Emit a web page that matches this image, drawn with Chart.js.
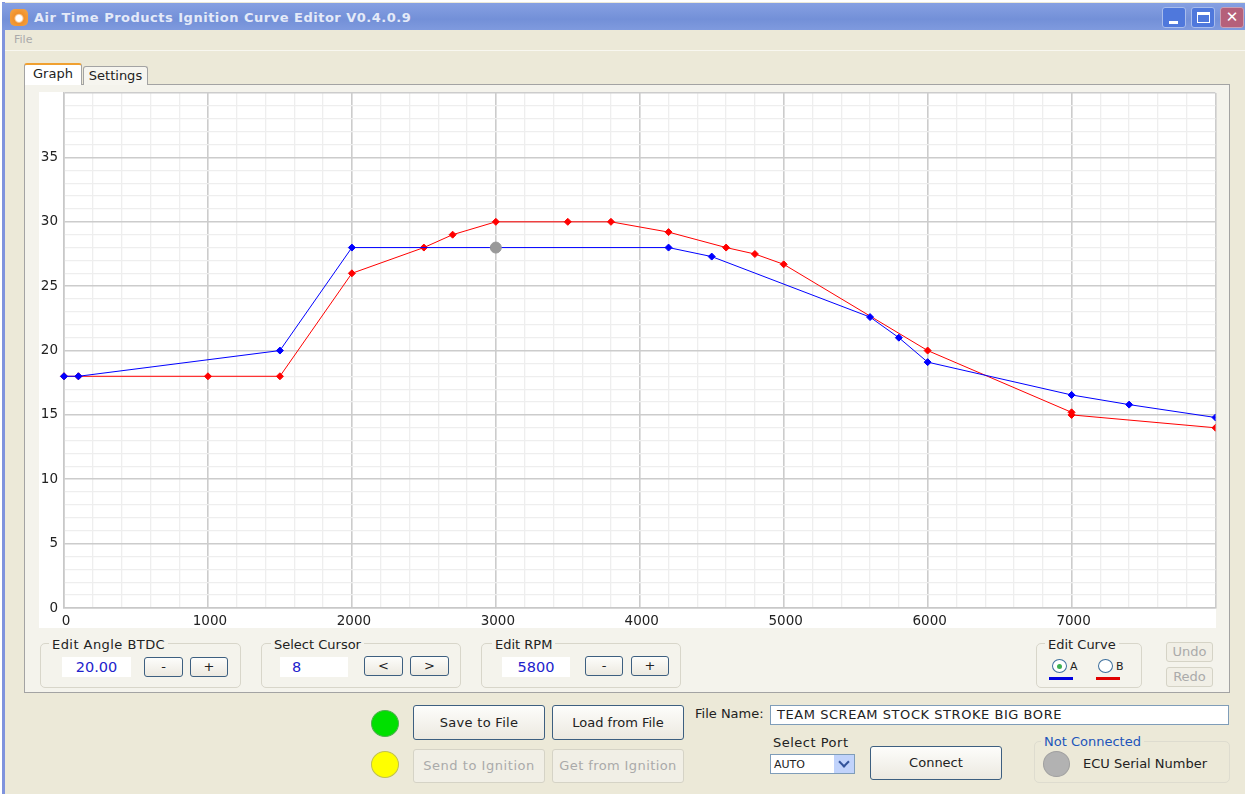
<!DOCTYPE html>
<html>
<head>
<meta charset="utf-8">
<title>Air Time Products Ignition Curve Editor</title>
<script src="https://cdn.jsdelivr.net/npm/chart.js@4"></script>
<style>
    html, body { margin: 0; padding: 0; background: #fff; width: 1245px; height: 800px; overflow: hidden; }
    body { font-family: "DejaVu Sans", sans-serif; font-size: 13px; color: #222; }
    .abs, .abs * { box-sizing: border-box; }
    .abs { position: absolute; white-space: nowrap; }
    .ventana { left: 2px; top: 2px; width: 1243px; height: 792px; background: #ece9d8; border-left: 3px solid #7f93dd; }
    .titulo { left: 2px; top: 3px; width: 1243px; height: 27px; background: linear-gradient(#86a0e2, #7390d8 60%, #7f9ade); }
    .textoTitulo { left: 34px; top: 10px; font-weight: bold; font-size: 13px; letter-spacing: 0.5px; color: #e4eaf8; }
    .icono { left: 10px; top: 9px; width: 18px; height: 17px; border-radius: 5px; background: radial-gradient(circle at 50% 55%, #fff 0 3px, #f0902a 5px, #f5a84a); }
    .btnVentana { top: 7px; width: 24px; height: 21px; border: 1px solid #a9bdec; border-radius: 3px; background: #4f78dc; color: #fff; text-align: center; line-height: 19px; font-weight: bold; }
    .menu { left: 5px; top: 30px; width: 1240px; height: 21px; border-bottom: 1px solid #f8f7f0; }
    .panel { left: 24px; top: 84px; width: 1206px; height: 609px; background: #f4f3ec; border: 1px solid #a3a3a3; }
    .tab { border: 1px solid #a3a3a3; border-bottom: none; border-radius: 3px 3px 0 0; text-align: center; }
    .grupo { border: 1px solid #d8d6ca; border-radius: 5px; }
    .leyenda { background: #f4f3ec; padding: 0 3px; line-height: 14px; }
    .campo { background: #fff; color: #2222cc; height: 20px; line-height: 20px; font-size: 14.5px; }
    .boton { border: 1px solid #3d5f80; border-radius: 3px; background: linear-gradient(#fdfdfb, #ece9e0); text-align: center; }
    .inactivo { border: 1px solid #d5d3c6; color: #aaa; background: #f1efe6; }
    .circulo { border-radius: 50%; }
    .fondoGrafico { left: 39px; top: 92px; width: 1177px; height: 536px; background: #fff; }
    canvas { position: absolute; left: 39px; top: 79px; }
</style>
</head>
<body>
<div class="abs ventana"></div>
<div class="abs titulo"></div>
<div class="abs icono"></div>
<div class="abs textoTitulo">Air Time Products Ignition Curve Editor V0.4.0.9</div>
<div class="abs btnVentana" style="left:1162px;"><span class="abs" style="left:6px;top:13px;width:9px;height:3px;background:#fff;"></span></div>
<div class="abs btnVentana" style="left:1191px;"><span class="abs" style="left:5px;top:4px;width:13px;height:11px;border:1px solid #fff;border-top-width:3px;"></span></div>
<div class="abs btnVentana" style="left:1220px;background:#b5607a;border-color:#c9a0b5;font-size:15px;">✕</div>
<div class="abs menu"></div>
<div class="abs" style="left:14px;top:33px;color:#aaa;font-size:11px;">File</div>

<div class="abs panel"></div>
<div class="abs tab" style="left:83px;top:66px;width:65px;height:19px;background:#f6f5ef;line-height:18px;">Settings</div>
<div class="abs tab" style="left:24px;top:63px;width:58px;height:22px;background:#fff;border-top:2px solid #f0a030;line-height:18px;">Graph</div>

<div class="abs fondoGrafico"></div>
<canvas id="curvaChart" width="1183" height="549" style="width:1183px;height:549px;"></canvas>

<div class="abs grupo" style="left:40px;top:643px;width:201px;height:45px;"></div>
<div class="abs leyenda" style="left:49px;top:638px;letter-spacing:0.45px;">Edit Angle BTDC</div>
<div class="abs campo" style="left:62px;top:657px;width:69px;text-align:center;">20.00</div>
<div class="abs boton" style="left:144px;top:657px;width:39px;height:20px;line-height:17px;">-</div>
<div class="abs boton" style="left:190px;top:657px;width:38px;height:20px;line-height:17px;">+</div>

<div class="abs grupo" style="left:261px;top:643px;width:200px;height:45px;"></div>
<div class="abs leyenda" style="left:271px;top:638px;">Select Cursor</div>
<div class="abs campo" style="left:280px;top:657px;width:68px;padding-left:12px;">8</div>
<div class="abs boton" style="left:364px;top:656px;width:39px;height:20px;line-height:17px;">&lt;</div>
<div class="abs boton" style="left:410px;top:656px;width:39px;height:20px;line-height:17px;">&gt;</div>

<div class="abs grupo" style="left:481px;top:643px;width:200px;height:45px;"></div>
<div class="abs leyenda" style="left:492px;top:638px;">Edit RPM</div>
<div class="abs campo" style="left:502px;top:657px;width:68px;text-align:center;">5800</div>
<div class="abs boton" style="left:585px;top:656px;width:38px;height:20px;line-height:17px;">-</div>
<div class="abs boton" style="left:631px;top:656px;width:38px;height:20px;line-height:17px;">+</div>

<div class="abs grupo" style="left:1036px;top:643px;width:106px;height:45px;"></div>
<div class="abs leyenda" style="left:1045px;top:638px;">Edit Curve</div>
<div class="abs circulo" style="left:1052px;top:659px;width:15px;height:14px;background:#fff;border:1px solid #3d6f9d;"></div>
<div class="abs circulo" style="left:1057px;top:664px;width:5px;height:5px;background:#3cb050;"></div>
<div class="abs" style="left:1070px;top:660px;font-size:11px;">A</div>
<div class="abs circulo" style="left:1098px;top:659px;width:15px;height:14px;background:#fff;border:1px solid #3d6f9d;"></div>
<div class="abs" style="left:1116px;top:660px;font-size:11px;">B</div>
<div class="abs" style="left:1049px;top:677px;width:24px;height:3px;background:#0000e0;"></div>
<div class="abs" style="left:1096px;top:677px;width:24px;height:3px;background:#e00000;"></div>
<div class="abs boton inactivo" style="left:1166px;top:642px;width:47px;height:20px;line-height:18px;">Undo</div>
<div class="abs boton inactivo" style="left:1166px;top:667px;width:47px;height:20px;line-height:18px;">Redo</div>

<div class="abs circulo" style="left:371px;top:710px;width:28px;height:27px;background:#00e000;border:1px solid #50b050;"></div>
<div class="abs circulo" style="left:371px;top:751px;width:28px;height:27px;background:#ffff00;border:1px solid #c0c050;"></div>
<div class="abs boton" style="left:413px;top:705px;width:132px;height:35px;line-height:33px;letter-spacing:0.3px;">Save to File</div>
<div class="abs boton" style="left:552px;top:705px;width:132px;height:35px;line-height:33px;">Load from File</div>
<div class="abs boton inactivo" style="left:413px;top:749px;width:132px;height:34px;line-height:32px;letter-spacing:0.55px;">Send to Ignition</div>
<div class="abs boton inactivo" style="left:552px;top:749px;width:132px;height:34px;line-height:32px;letter-spacing:0.4px;">Get from Ignition</div>

<div class="abs" style="left:695px;top:706px;">File Name:</div>
<div class="abs" style="left:770px;top:705px;width:459px;height:20px;background:#fff;border:1px solid #7f9db9;padding-left:6px;line-height:18px;letter-spacing:0.55px;">TEAM SCREAM STOCK STROKE BIG BORE</div>
<div class="abs" style="left:773px;top:735px;letter-spacing:0.5px;">Select Port</div>
<div class="abs" style="left:770px;top:754px;width:85px;height:20px;background:#fff;border:1px solid #7f9db9;padding-left:3px;line-height:19px;font-size:11px;">AUTO</div>
<div class="abs" style="left:834px;top:755px;width:20px;height:18px;background:#c1d3fb;"><span class="abs" style="left:6px;top:3px;width:8px;height:8px;border-right:2px solid #33539a;border-bottom:2px solid #33539a;transform:rotate(45deg);"></span></div>
<div class="abs boton" style="left:870px;top:746px;width:132px;height:34px;line-height:32px;">Connect</div>
<div class="abs grupo" style="left:1034px;top:741px;width:196px;height:42px;border-color:#dedccf;"></div>
<div class="abs" style="left:1041px;top:734px;background:#ece9d8;padding:0 3px;color:#2255bb;">Not Connected</div>
<div class="abs circulo" style="left:1043px;top:751px;width:27px;height:26px;background:#b2b2b2;border:1px solid #a0a0a0;"></div>
<div class="abs" style="left:1083px;top:756px;">ECU Serial Number</div>

<script>
// Curva A (azul)
const rpmCurvaA = [0, 100, 1500, 2000, 3000, 4200, 4500, 5600, 5800, 6000, 7000, 7400, 8000];
const anguloCurvaA = [18, 18, 20, 28, 28, 28, 27.3, 22.6, 21, 19.1, 16.55, 15.8, 14.8];

// Curva B (roja)
const rpmCurvaB = [0, 100, 1000, 1500, 2000, 2500, 2700, 3000, 3500, 3800, 4200, 4600, 4800, 5000, 6000, 7000, 7000, 8000];
const anguloCurvaB = [18, 18, 18, 18, 26, 28, 29, 30, 30, 30, 29.2, 28, 27.5, 26.7, 20, 15.2, 15, 14];

// Cursor seleccionado
const rpmCursor = [3000];
const anguloCursor = [28];

// Etiquetas de los ejes
const etiquetasRpm = [0, 1000, 2000, 3000, 4000, 5000, 6000, 7000];
const etiquetasAngulo = [0, 5, 10, 15, 20, 25, 30, 35];

function crearPuntos(xs, ys) {
    return xs.map((x, i) => ({ x: x, y: ys[i] }));
}

function crearGraficoCurva() {
    const ctx = document.getElementById('curvaChart').getContext('2d');
    const fuente = { family: 'DejaVu Sans', size: 13.5 };
    new Chart(ctx, {
        type: 'scatter',
        data: {
            datasets: [
                {
                    label: 'Cursor',
                    data: crearPuntos(rpmCursor, anguloCursor),
                    pointStyle: 'circle',
                    pointRadius: 5.5,
                    backgroundColor: '#999999',
                    borderColor: '#999999',
                    order: 0
                },
                {
                    label: 'A',
                    data: crearPuntos(rpmCurvaA, anguloCurvaA),
                    showLine: true,
                    borderColor: '#0000ff',
                    backgroundColor: '#0000ff',
                    borderWidth: 1,
                    pointStyle: 'rectRot',
                    pointRadius: 3.5,
                    clip: { left: 5, right: 0, top: 0, bottom: 0 },
                    order: 1
                },
                {
                    label: 'B',
                    data: crearPuntos(rpmCurvaB, anguloCurvaB),
                    showLine: true,
                    borderColor: '#ff0000',
                    backgroundColor: '#ff0000',
                    borderWidth: 1,
                    pointStyle: 'rectRot',
                    pointRadius: 3.5,
                    clip: { left: 5, right: 0, top: 0, bottom: 0 },
                    order: 2
                }
            ]
        },
        options: {
            responsive: false,
            animation: false,
            layout: { padding: { top: 1, right: 1, left: 0, bottom: 0 } },
            plugins: {
                legend: { display: false },
                tooltip: { enabled: false }
            },
            scales: {
                x: {
                    type: 'linear',
                    min: 0,
                    max: 8000,
                    afterFit: escala => { escala.height = 20; },
                    border: { color: '#c8c8c8', width: 1.5 },
                    grid: {
                        drawTicks: false,
                        color: c => (c.tick.value % 1000 === 0 ? '#cccccc' : '#eeeeee'),
                        lineWidth: c => (c.tick.value % 1000 === 0 ? 1.6 : 1.3)
                    },
                    ticks: {
                        stepSize: 200,
                        autoSkip: false,
                        maxRotation: 0,
                        padding: 5,
                        labelOffset: 2,
                        color: '#222',
                        font: fuente,
                        callback: v => (etiquetasRpm.includes(v) ? String(v) : '')
                    }
                },
                y: {
                    min: 0,
                    max: 40,
                    afterFit: escala => { escala.width = 25; },
                    border: { color: '#c8c8c8', width: 1.5 },
                    grid: {
                        drawTicks: false,
                        color: c => (c.tick.value % 5 === 0 ? '#cccccc' : '#eeeeee'),
                        lineWidth: c => (c.tick.value % 5 === 0 ? 1.6 : 1.3)
                    },
                    ticks: {
                        stepSize: 1,
                        autoSkip: false,
                        padding: 6,
                        color: '#222',
                        font: fuente,
                        callback: v => (etiquetasAngulo.includes(v) ? String(v) : '')
                    }
                }
            }
        }
    });
}

document.addEventListener('DOMContentLoaded', crearGraficoCurva);
</script>
</body>
</html>
